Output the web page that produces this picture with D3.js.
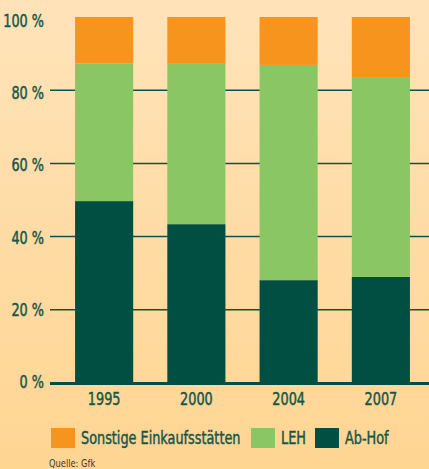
<!DOCTYPE html>
<html>
<head>
<meta charset="utf-8">
<script src="https://cdn.jsdelivr.net/npm/d3@7"></script>
<style>
  html, body { margin: 0; padding: 0; }
  body { width: 429px; height: 469px; overflow: hidden; }
  text { font-family: "DejaVu Sans Condensed", "DejaVu Sans", sans-serif; fill: #16564a;
         stroke: #16564a; stroke-width: 0.45px; }
</style>
</head>
<body>
<div id="chart"></div>
<script>
// data (percent shares)
var years = ['1995', '2000', '2004', '2007'];
var abHof = [49.7, 43.4, 28.1, 29.0];
var leh = [37.6, 43.8, 58.8, 54.6];
var sonstige = [12.7, 12.8, 13.1, 16.4];
var yTicks = [0, 20, 40, 60, 80, 100];

var series_names = ['Ab-Hof', 'LEH', 'Sonstige Einkaufsstätten'];
var series_colors = ['#004f42', '#8bc665', '#f7941d'];

var WIDTH = 429, HEIGHT = 469;
const SQUEEZE = 0.84; // the original uses a condensed face

var svg = d3.select('#chart').append('svg')
    .attr('width', WIDTH)
    .attr('height', HEIGHT);

var defs = svg.append('defs');
var grad = defs.append('linearGradient')
    .attr('id', 'bg')
    .attr('x1', 0).attr('y1', 0)
    .attr('x2', 0).attr('y2', 1);
grad.append('stop').attr('offset', '0%').attr('stop-color', '#ffe3b9');
grad.append('stop').attr('offset', '100%').attr('stop-color', '#ffd592');

svg.append('rect')
    .attr('width', WIDTH)
    .attr('height', HEIGHT)
    .attr('fill', 'url(#bg)');

var x = d3.scaleBand()
    .domain(years)
    .range([58, 427])
    .paddingInner(0.37)
    .paddingOuter(0.185);

var y = d3.scaleLinear()
    .domain([0, 100])
    .range([383, 17]);

// the tick labels are spaced a bit tighter than the gridlines in the original
var y_label = d3.scaleLinear()
    .domain([0, 100])
    .range([388, 27]);

function Squeezed(sel, px, py) {
  return sel.attr('transform', (d, i) => {
    return 'translate(' + px(d, i) + ',' + py(d, i) + ') scale(' + SQUEEZE + ',1)';
  });
}

// gridlines behind the bars
svg.append('g')
    .selectAll('line')
    .data(yTicks.filter((d) => { return d > 0 && d < 100; }))
    .enter().append('line')
        .attr('x1', 50)
        .attr('x2', WIDTH)
        .attr('y1', (d) => { return y(d); })
        .attr('y2', (d) => { return y(d); })
        .attr('stroke', '#0d5247')
        .attr('stroke-width', 1.5);

var table = years.map((yr, i) => {
  return { year: yr, 'Ab-Hof': abHof[i], 'LEH': leh[i],
           'Sonstige Einkaufsstätten': sonstige[i] };
});
var stacked = d3.stack().keys(series_names)(table);

svg.append('g')
    .selectAll('g')
    .data(stacked)
    .enter().append('g')
        .attr('fill', (d, i) => { return series_colors[i]; })
    .selectAll('rect')
    .data((d) => { return d; })
    .enter().append('rect')
        .attr('x', (d) => { return x(d.data.year); })
        .attr('y', (d) => { return y(d[1]); })
        .attr('width', x.bandwidth())
        .attr('height', (d) => { return y(d[0]) - y(d[1]); });

// zero baseline
svg.append('line')
    .attr('x1', 50)
    .attr('x2', WIDTH)
    .attr('y1', y(0) + 0.5)
    .attr('y2', y(0) + 0.5)
    .attr('stroke', '#004f42')
    .attr('stroke-width', 3);

// y tick labels
Squeezed(svg.append('g')
    .selectAll('text')
    .data(yTicks)
    .enter().append('text'),
    () => 44, (d) => y_label(d))
        .attr('text-anchor', 'end')
        .style('font-size', '17px')
        .text((d) => { return d + ' %'; });

// x labels
Squeezed(svg.append('g')
    .selectAll('text')
    .data(years)
    .enter().append('text'),
    (d) => x(d) + x.bandwidth() / 2, () => 405)
        .attr('text-anchor', 'middle')
        .style('font-size', '17px')
        .text((d) => { return d; });

// legend
var legend_items = [
  { name: 'Sonstige Einkaufsstätten', color: series_colors[2], x: 51 },
  { name: 'LEH', color: series_colors[1], x: 251 },
  { name: 'Ab-Hof', color: series_colors[0], x: 315 }
];
var legend = svg.append('g')
    .selectAll('g')
    .data(legend_items)
    .enter().append('g')
        .attr('transform', (d) => { return 'translate(' + d.x + ',428)'; });
legend.append('rect')
    .attr('width', 24)
    .attr('height', 20)
    .attr('fill', (d) => { return d.color; });
Squeezed(legend.append('text'), () => 30, () => 16)
    .style('font-size', '17px')
    .text((d) => { return d.name; });

Squeezed(svg.append('text'), () => 49, () => 467)
    .style('font-size', '11px')
    .style('fill', '#3a3a2a')
    .style('stroke', 'none')
    .text('Quelle: Gfk');
</script>
</body>
</html>
